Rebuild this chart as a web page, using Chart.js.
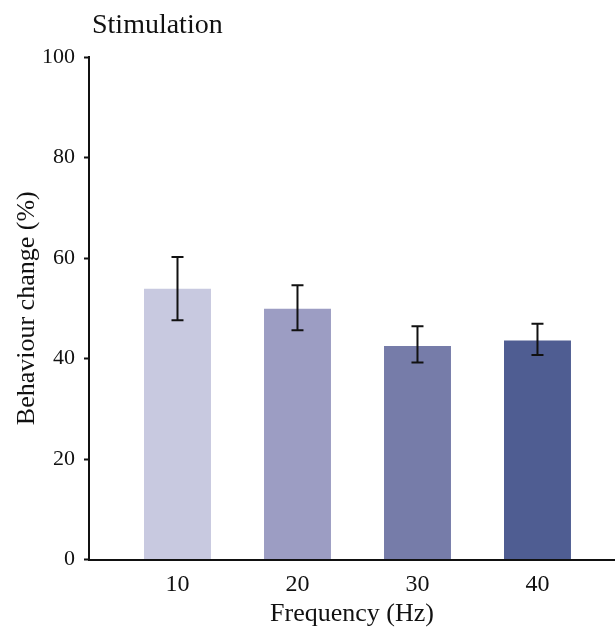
<!DOCTYPE html>
<html>
<head>
<meta charset="utf-8">
<script src="https://cdn.jsdelivr.net/npm/chart.js@4.4.1/dist/chart.umd.min.js"></script>
<style>
  html, body { margin: 0; padding: 0; background: #fff; }
  #wrap { width: 615px; height: 627px; position: relative; }
</style>
</head>
<body>
<div id="wrap"><canvas id="c" width="615" height="627"></canvas></div>
<script>
const categories = ['10', '20', '30', '40'];
const values = [53.9, 49.9, 42.5, 43.6];
const errHigh = [60.2, 54.6, 46.4, 46.9];
const errLow = [47.6, 45.6, 39.2, 40.7];
const yTicks = [0, 20, 40, 60, 80, 100];
const barColors = ['#c8c9e0', '#9c9dc3', '#767ca9', '#4f5d92'];

const FONT = "'Liberation Serif', 'Times New Roman', serif";

const errorBars = {
  id: 'errorBars',
  afterDatasetsDraw(chart) {
    const { ctx, scales: { x, y } } = chart;
    ctx.save();
    ctx.strokeStyle = '#111';
    ctx.lineWidth = 2;
    categories.forEach((c, i) => {
      const px = x.getPixelForValue(i);
      const top = y.getPixelForValue(errHigh[i]);
      const bot = y.getPixelForValue(errLow[i]);
      ctx.beginPath();
      ctx.moveTo(px, top); ctx.lineTo(px, bot);
      ctx.moveTo(px - 6, top); ctx.lineTo(px + 6, top);
      ctx.moveTo(px - 6, bot); ctx.lineTo(px + 6, bot);
      ctx.stroke();
    });
    ctx.restore();
  }
};

const titlePlugin = {
  id: 'leftTitle',
  afterDraw(chart) {
    const { ctx, chartArea } = chart;
    ctx.save();
    ctx.fillStyle = '#111';
    ctx.font = "28px " + FONT;
    ctx.textBaseline = 'alphabetic';
    ctx.textAlign = 'left';
    ctx.fillText('Stimulation', chartArea.left + 3, 33);
    ctx.restore();
  }
};

new Chart(document.getElementById('c'), {
  type: 'bar',
  data: {
    datasets: [{
      data: values.map((v, i) => ({ x: i, y: v })),
      backgroundColor: barColors,
      borderWidth: 0,
      barPercentage: 0.558,
      categoryPercentage: 1.0
    }]
  },
  options: {
    responsive: false,
    animation: false,
    layout: { padding: { top: 57, right: 0, bottom: 0, left: 0 } },
    plugins: { legend: { display: false }, tooltip: { enabled: false } },
    scales: {
      x: {
        type: 'linear',
        min: -0.7375,
        max: 3.646,
        offset: false,
        afterBuildTicks(scale) { scale.ticks = categories.map((_, i) => ({ value: i })); },
        afterFit(scale) { scale.height = 67.5; },
        grid: { display: false, drawTicks: false },
        border: { display: true, color: '#111', width: 2 },
        ticks: {
          color: '#111',
          font: { family: FONT, size: 24 },
          padding: 11,
          callback: (v) => categories[v],
          maxRotation: 0
        },
        title: {
          display: true,
          text: 'Frequency (Hz)',
          color: '#111',
          font: { family: FONT, size: 26, lineHeight: 1.0 },
          padding: { top: 0, bottom: 0 }
        }
      },
      y: {
        min: 0,
        max: 100,
        afterBuildTicks(scale) { scale.ticks = yTicks.map(v => ({ value: v })); },
        afterFit(scale) { scale.width = 89; },
        grid: { drawOnChartArea: false, drawTicks: true, tickLength: 5, color: '#111', tickWidth: 2 },
        border: { display: true, color: '#111', width: 2 },
        ticks: {
          color: '#111',
          font: { family: FONT, size: 22 },
          padding: 9
        },
        title: {
          display: true,
          text: 'Behaviour change (%)',
          color: '#111',
          font: { family: FONT, size: 26, lineHeight: 1.0 },
          padding: { top: 14, bottom: 0 }
        }
      }
    }
  },
  plugins: [errorBars, titlePlugin]
});
</script>
</body>
</html>
